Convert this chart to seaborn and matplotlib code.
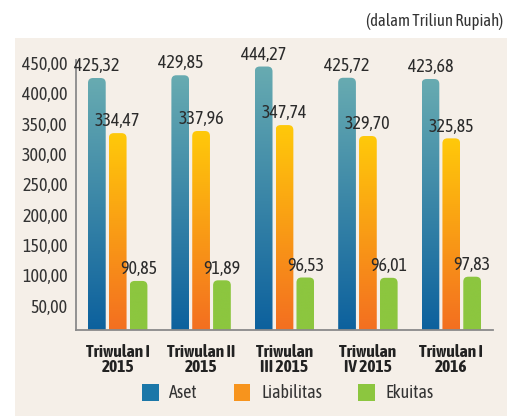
import numpy as np
import pandas as pd
import seaborn as sns
import matplotlib.pyplot as plt
from matplotlib.patches import FancyBboxPatch, Rectangle, Patch
from matplotlib.colors import LinearSegmentedColormap

periods = ["Triwulan I\n2015", "Triwulan II\n2015", "Triwulan\nIII 2015",
           "Triwulan\nIV 2015", "Triwulan I\n2016"]
series = ["Aset", "Liabilitas", "Ekuitas"]
aset = [425.32, 429.85, 444.27, 425.72, 423.68]
liabilitas = [334.47, 337.96, 347.74, 329.70, 325.85]
ekuitas = [90.85, 91.89, 96.53, 96.01, 97.83]

# gradient colours (top, bottom) per series
grad = {
    "Aset": ("#68abb1", "#0a5f9d"),
    "Liabilitas": ("#ffc90a", "#f36c21"),
    "Ekuitas": ("#8cc63f", "#8cc63f"),
}
solid = {"Aset": "#1b77a8", "Liabilitas": "#f7941d", "Ekuitas": "#8cc63f"}

df = pd.DataFrame({
    "periode": periods * 3,
    "jenis": ["Aset"] * 5 + ["Liabilitas"] * 5 + ["Ekuitas"] * 5,
    "nilai": aset + liabilitas + ekuitas,
})

sns.set_style("white")
plt.rcParams['font.family'] = ['Asap Condensed', 'Roboto Condensed', 'DejaVu Sans']

fig = plt.figure(figsize=(5.07, 4.16), dpi=100)
# beige panel behind the chart
fig.patches.append(Rectangle((15 / 507, 0), 1, 1 - 38 / 416, transform=fig.transFigure,
                             facecolor="#f5efe8", edgecolor="none", zorder=-10))
fig.text(0.992, 1 - 22 / 416, "(dalam Triliun Rupiah)", ha="right", va="center",
         fontsize=12, color="#333333")

ax = fig.add_axes([76 / 507, 1 - 330 / 416, (493 - 76) / 507, (330 - 60) / 416])
ax.set_facecolor("none")

sns.barplot(data=df, x="periode", y="nilai", hue="jenis", order=periods,
            hue_order=series, palette=solid, width=0.75, gap=0.15, ax=ax,
            legend=False, zorder=2)

ylo, yhi = 10, 455
ax.set_ylim(ylo, yhi)
ax.set_xlim(-0.5, 4.5)

# px per data unit, for round corners
bbox = ax.get_window_extent()
px_x = bbox.width / 5.0
px_y = bbox.height / (yhi - ylo)
r_px = 5
rx = r_px / px_x
aspect = (r_px / px_y) / rx

for k, cont in enumerate(ax.containers):
    name = series[k]
    cmap = LinearSegmentedColormap.from_list(name, [grad[name][1], grad[name][0]])
    for bar in cont:
        x, w, h = bar.get_x(), bar.get_width(), bar.get_height()
        bar.set_visible(False)
        shape = FancyBboxPatch((x, 0), w, h,
                               boxstyle=f"round,pad=0,rounding_size={rx}",
                               mutation_aspect=aspect, facecolor="none",
                               edgecolor="none", transform=ax.transData)
        ax.add_patch(shape)
        im = ax.imshow(np.linspace(0, 1, 256).reshape(-1, 1), cmap=cmap,
                       extent=[x, x + w, 0, h], origin="lower", aspect="auto",
                       zorder=2)
        im.set_clip_path(shape)
        ax.annotate(f"{h:.2f}".replace(".", ","), (x + w / 2, h),
                    xytext=(0, 2), textcoords="offset points",
                    ha="center", va="bottom", fontsize=13, color="#2b2b2b",
                    zorder=3)

ax.set_xlim(-0.5, 4.5)
ax.set_ylim(ylo, yhi)
ax.set_yticks(np.arange(50, 451, 50))
ax.set_yticklabels([f"{v:.2f}".replace(".", ",") for v in np.arange(50, 451, 50)],
                   fontsize=13, color="#333333")
ax.set_xticks(range(5))
ax.set_xticklabels(periods, fontsize=12.5, fontweight="bold", color="#222222",
                   linespacing=0.95)
ax.tick_params(axis="both", length=0, pad=6)
ax.tick_params(axis="x", pad=10)
ax.set_xlabel("")
ax.set_ylabel("")

for s in ["top", "right"]:
    ax.spines[s].set_visible(False)
for s in ["left", "bottom"]:
    ax.spines[s].set_color("#8a8a8a")
    ax.spines[s].set_linewidth(1.3)

handles = [Patch(facecolor=solid[s], edgecolor="none") for s in series]
fig.legend(handles, series, loc="center", bbox_to_anchor=(288 / 507, 1 - 393 / 416),
           ncol=3, frameon=False, fontsize=13, handlelength=0.9, handleheight=1.1,
           columnspacing=2.0, handletextpad=0.6, labelcolor="#333333")

fig.savefig("out.png", dpi=100)
